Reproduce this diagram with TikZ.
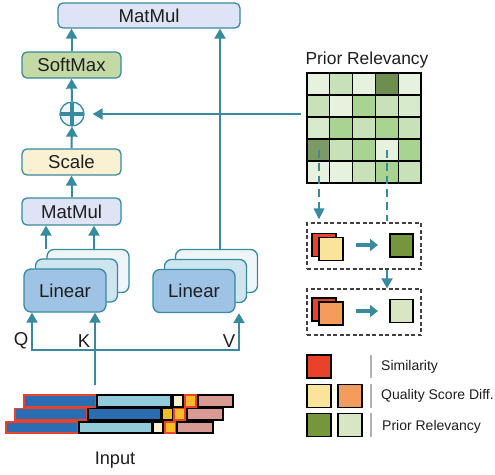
\documentclass[tikz,border=0pt]{standalone}
\usepackage{fontspec}
\setmainfont{Liberation Sans}
\usetikzlibrary{arrows.meta,calc}
\definecolor{tealc}{RGB}{56,138,158}
\definecolor{txt}{RGB}{30,30,30}
\definecolor{lav}{RGB}{222,228,245}
\definecolor{sgreen}{RGB}{197,217,165}
\definecolor{scream}{RGB}{250,241,210}
\definecolor{lin1}{RGB}{158,195,228}
\definecolor{lin2}{RGB}{205,229,238}
\definecolor{lin3}{RGB}{238,246,249}
\definecolor{gA}{RGB}{230,241,222}
\definecolor{gB}{RGB}{201,225,185}
\definecolor{gC}{RGB}{169,211,144}
\definecolor{gD}{RGB}{109,142,79}
\definecolor{gE}{RGB}{124,154,102}
\definecolor{gF}{RGB}{216,234,204}
\definecolor{bdark}{RGB}{42,109,179}
\definecolor{blight}{RGB}{146,203,217}
\definecolor{bcream}{RGB}{253,242,208}
\definecolor{borange}{RGB}{249,188,37}
\definecolor{bpink}{RGB}{217,154,148}
\definecolor{sqred}{RGB}{232,67,42}
\definecolor{sqcream}{RGB}{250,228,156}
\definecolor{sqorange}{RGB}{243,156,92}
\definecolor{sqdgreen}{RGB}{118,150,62}
\definecolor{sqlgreen}{RGB}{217,230,196}
\definecolor{dashc}{RGB}{64,64,64}
\begin{document}
\begin{tikzpicture}[x=1pt,y=-1pt,
  lbl/.style={font=\fontsize{18.6}{21}\selectfont, text=txt, inner sep=0pt},
  box/.style={lbl, draw=tealc, line width=1.3pt, rounded corners=5pt},
  card/.style={draw=tealc, line width=1.3pt, rounded corners=7pt, minimum width=82pt, minimum height=43pt, inner sep=0pt},
  arr/.style={draw=tealc, line width=2pt, -{Triangle[width=11pt,length=10pt]}},
  conn/.style={draw=tealc, line width=2pt},
  dsh/.style={draw=tealc, line width=2pt, dash pattern=on 8pt off 5pt},
  dbox/.style={draw=dashc, line width=1.2pt, dash pattern=on 4pt off 2.5pt, minimum width=114pt, minimum height=46pt, inner sep=0pt},
  sq/.style={draw=black, line width=1.2pt, minimum width=24pt, minimum height=23pt, inner sep=0pt},
  fat/.style={draw=tealc, line width=4pt, -{Triangle[width=12pt,length=8pt]}},
  bar/.style={line width=1.2pt},
  leg/.style={font=\fontsize{14}{16}\selectfont, text=txt, anchor=west, inner sep=0pt},
  cell/.style={draw=black, line width=1.3pt}]
\useasboundingbox (0,0) rectangle (495,474);

% left column
\node[box, fill=lav, minimum width=182pt, minimum height=25pt] (mmtop) at (149,15.5) {MatMul};
\node[box, fill=sgreen, minimum width=99pt, minimum height=26pt] (soft) at (71.5,65) {SoftMax};
\node[circle, draw=tealc, fill=lin3, line width=1.3pt, minimum size=24pt, inner sep=0pt] (plus) at (72,114) {};
\draw[tealc, line width=3.2pt] ([yshift=-1.5pt]plus.north) -- ([yshift=1.5pt]plus.south);
\draw[tealc, line width=3.2pt] ([xshift=1.5pt]plus.west) -- ([xshift=-1.5pt]plus.east);
\node[box, fill=scream, minimum width=99pt, minimum height=26pt] (scale) at (71.5,162) {Scale};
\node[box, fill=lav, minimum width=99pt, minimum height=27pt] (mm) at (71.5,211.5) {MatMul};

% linear cards
\node[card, fill=lin3] (qk3) at (88,271) {};
\node[card, fill=lin2] (qk2) at (76.5,280.5) {};
\node[card, fill=lin1, lbl] (qk1) at (65,290.5) {Linear};
\node[card, fill=lin3] (v3) at (216.5,271) {};
\node[card, fill=lin2] (v2) at (205.5,281) {};
\node[card, fill=lin1, lbl] (v1) at (194,291) {Linear};

% arrows in left column
\draw[arr] (soft.north) -- (soft.north |- mmtop.south);
\draw[arr] (plus.north) -- (soft.south);
\draw[arr] (scale.north) -- (plus.south);
\draw[arr] (mm.north) -- (scale.south);
\draw[arr] ([xshift=-42pt]qk3.north) -- ([xshift=-42pt]qk3.north |- mm.south);
\draw[arr] ([xshift=6pt]qk3.north) -- ([xshift=6pt]qk3.north |- mm.south);
\draw[arr] ([xshift=3.5pt]v3.north) -- ([xshift=3.5pt]v3.north |- mmtop.south);

% Q K V inputs
\coordinate (qb) at (32,350);
\coordinate (vb) at (239,350);
\coordinate (inp) at (95,385);
\draw[conn] ([xshift=-1pt]qb) -- ([xshift=1pt]vb);
\draw[arr] (qb) -- (qb |- qk1.south);
\draw[arr] (inp) -- (inp |- qk1.south);
\draw[arr] (vb) -- (vb |- v1.south);
\node[lbl] (lq) at (21,341) {Q};
\node[lbl] (lk) at (84,341) {K};
\node[lbl] (lv) at (229,341) {V};

% input bars
\filldraw[bar, fill=bdark, draw=sqred] (24,395) rectangle (96,407);
\filldraw[bar, fill=blight, draw=black] (97,395) rectangle (171,407);
\filldraw[bar, fill=bcream, draw=black] (173,395) rectangle (183,407);
\filldraw[bar, fill=borange, draw=sqred] (185,395) rectangle (196,407);
\filldraw[bar, fill=bpink, draw=black] (198,395) rectangle (233,407);
\filldraw[bar, fill=bdark, draw=sqred] (15,408.5) rectangle (87,420);
\filldraw[bar, fill=bdark, draw=black] (88,408.5) rectangle (161,420);
\filldraw[bar, fill=borange, draw=black] (162,408.5) rectangle (173,420);
\filldraw[bar, fill=borange, draw=sqred] (174,408.5) rectangle (185,420);
\filldraw[bar, fill=bpink, draw=black] (187,408.5) rectangle (223,420);
\filldraw[bar, fill=bdark, draw=sqred] (6,422) rectangle (78,433);
\filldraw[bar, fill=blight, draw=black] (79,422) rectangle (152,433);
\filldraw[bar, fill=bcream, draw=black] (153,422) rectangle (163,433);
\filldraw[bar, fill=borange, draw=sqred] (165,422) rectangle (176,433);
\filldraw[bar, fill=bpink, draw=black] (177,422) rectangle (213,433);
\node[lbl, font=\fontsize{18.2}{21}\selectfont] (input) at (115,460) {Input};

% prior relevancy grid
\node[lbl, font=\fontsize{17.4}{20}\selectfont] (prt) at (367,60) {Prior Relevancy};
\foreach \r/\a/\b/\c/\d/\e in {0/gA/gB/gA/gD/gA, 1/gB/gA/gC/gB/gF, 2/gF/gC/gB/gC/gB, 3/gE/gB/gC/gA/gC, 4/gA/gA/gB/gC/gB}{
  \foreach \k/\col in {0/\a,1/\b,2/\c,3/\d,4/\e}{
    \filldraw[cell, fill=\col] ({307+22.8*\k},{73+22*\r}) rectangle ({307+22.8*(\k+1)},{73+22*(\r+1)});
  }
}
\node[minimum width=114pt, minimum height=110pt, inner sep=0pt] (grid) at (364,128) {};
\draw[arr, shorten <=6pt, shorten >=8pt] (grid.west |- plus) -- (plus.east);

% dashed boxes
\node[dbox] (b1) at (364,246) {};
\node[dbox] (b2) at (364,312) {};
\coordinate (d1) at (319,150);
\coordinate (d2) at (387,150);
\draw[dsh] (d1) -- ([yshift=8pt]d1 |- b1.north);
\fill[tealc] ([yshift=3pt]d1 |- b1.north) -- ++(-5.5,-11) -- ++(11,0) -- cycle;
\draw[dsh] (d2) -- ([yshift=1pt]d2 |- b1.north);
\draw[arr] (d2 |- b1.south) -- (d2 |- b2.north);

% box contents
\node[sq, fill=sqred] (r1) at (324,245) {};
\node[sq, fill=sqcream] (c1) at (331,249) {};
\node[sq, fill=sqdgreen, minimum width=23pt] (g1) at (401.5,245.5) {};
\draw[fat] (356,245) -- (378,245);
\node[sq, fill=sqred] (r2) at (324,309.5) {};
\node[sq, fill=sqorange] (o2) at (331,313.5) {};
\node[sq, fill=sqlgreen, minimum width=23pt] (g2) at (401.5,311) {};
\draw[fat] (356,311) -- (378,311);

% legend
\node[sq, fill=sqred] (l1) at (319,366.5) {};
\node[sq, fill=sqcream] (l2) at (319,396) {};
\node[sq, fill=sqorange] (l3) at (350,396) {};
\node[sq, fill=sqdgreen] (l4) at (319,425) {};
\node[sq, fill=sqlgreen] (l5) at (350,425) {};
\draw[gray!60, line width=1.5pt] (371,355) -- (371,378);
\draw[gray!60, line width=1.5pt] (371,384) -- (371,408);
\draw[gray!60, line width=1.5pt] (371,413) -- (371,437);
\node[leg] (t1) at (381,367) {Similarity};
\node[leg] (t2) at (381,396) {Quality Score Diff.};
\node[leg] (t3) at (382,427) {Prior Relevancy};
\end{tikzpicture}
\end{document}
